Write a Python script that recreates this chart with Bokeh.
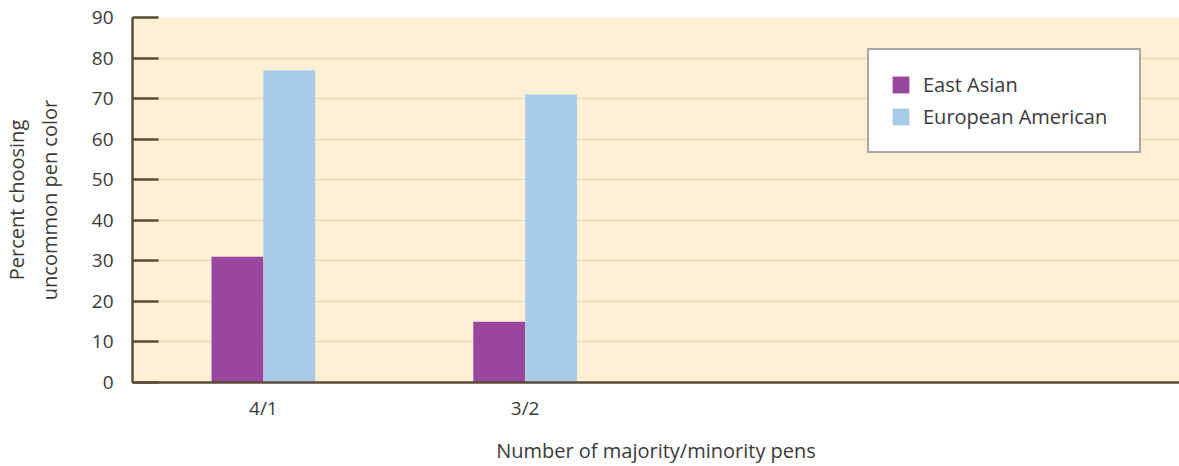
from bokeh.plotting import figure
from bokeh.models import ColumnDataSource, FixedTicker, Range1d, Legend, LegendItem
from bokeh.embed import file_html
from bokeh.resources import INLINE

categories = ["4/1", "3/2"]
east_asian = [31, 15]
european_american = [77, 71]
series_names = ["East Asian", "European American"]
y_ticks = [0, 10, 20, 30, 40, 50, 60, 70, 80, 90]

FONT = "Open Sans"
TEXT = "#3a3a3a"
AXIS = "#5a4b3a"
PURPLE = "#9a469d"
BLUE = "#a9cbe7"

xpos = list(range(1, len(categories) + 1))
bw = 0.198
src = ColumnDataSource(dict(
    x_ea=[x - bw / 2 for x in xpos],
    x_eu=[x + bw / 2 for x in xpos],
    ea=east_asian,
    eu=european_american,
))

p = figure(width=1179, height=466, output_backend="svg", toolbar_location=None,
           x_range=Range1d(0.5, 4.5), y_range=Range1d(0, 90),
           min_border_left=129, min_border_top=17, min_border_right=0, min_border_bottom=84)
p.background_fill_color = "#fdf0d4"
p.border_fill_color = "white"
p.outline_line_color = None

r1 = p.vbar(x="x_ea", top="ea", width=bw, bottom=0, source=src, fill_color=PURPLE, line_color=None)
r2 = p.vbar(x="x_eu", top="eu", width=bw, bottom=0, source=src, fill_color=BLUE, line_color=None)

p.xgrid.visible = False
p.ygrid.grid_line_color = "#e6d9bd"
p.ygrid.grid_line_width = 1.5
p.ygrid.ticker = FixedTicker(ticks=y_ticks)

p.yaxis.ticker = FixedTicker(ticks=y_ticks)
p.yaxis.major_tick_in = 26
p.yaxis.major_tick_out = 0
p.yaxis.minor_tick_line_color = None
p.yaxis.major_tick_line_color = AXIS
p.yaxis.major_tick_line_width = 2.5
p.yaxis.axis_line_color = AXIS
p.yaxis.axis_line_width = 2.5
p.yaxis.major_label_text_font = FONT
p.yaxis.major_label_text_font_size = "19px"
p.yaxis.major_label_text_color = TEXT
p.yaxis.major_label_standoff = 19
p.yaxis.axis_label = "Percent choosing\nuncommon pen color"
p.yaxis.axis_label_text_font = FONT
p.yaxis.axis_label_text_font_size = "20px"
p.yaxis.axis_label_text_font_style = "normal"
p.yaxis.axis_label_text_color = TEXT
p.yaxis.axis_label_standoff = 26

p.xaxis.ticker = FixedTicker(ticks=xpos)
p.xaxis.major_label_overrides = {x: c for x, c in zip(xpos, categories)}
p.xaxis.major_tick_line_color = None
p.xaxis.minor_tick_line_color = None
p.xaxis.axis_line_color = AXIS
p.xaxis.axis_line_width = 2.5
p.xaxis.major_label_text_font = FONT
p.xaxis.major_label_text_font_size = "19px"
p.xaxis.major_label_text_color = TEXT
p.xaxis.major_label_standoff = 6
p.xaxis.axis_label = "Number of majority/minority pens"
p.xaxis.axis_label_text_font = FONT
p.xaxis.axis_label_text_font_size = "20px"
p.xaxis.axis_label_text_font_style = "normal"
p.xaxis.axis_label_text_color = TEXT
p.xaxis.axis_label_standoff = 13

legend = Legend(items=[LegendItem(label=series_names[0], renderers=[r1]),
                       LegendItem(label=series_names[1], renderers=[r2])],
                location=(735, 229))
legend.background_fill_color = "white"
legend.background_fill_alpha = 1
legend.border_line_color = "#555048"
legend.border_line_width = 2
legend.label_text_font = FONT
legend.label_text_font_size = "20px"
legend.label_text_color = TEXT
legend.glyph_width = 21
legend.glyph_height = 21
legend.label_height = 21
legend.label_width = 195
legend.spacing = 5
legend.padding = 21
legend.margin = 0
legend.label_standoff = 12
p.add_layout(legend, "center")

open("out.html", "w").write(file_html(p, INLINE))
